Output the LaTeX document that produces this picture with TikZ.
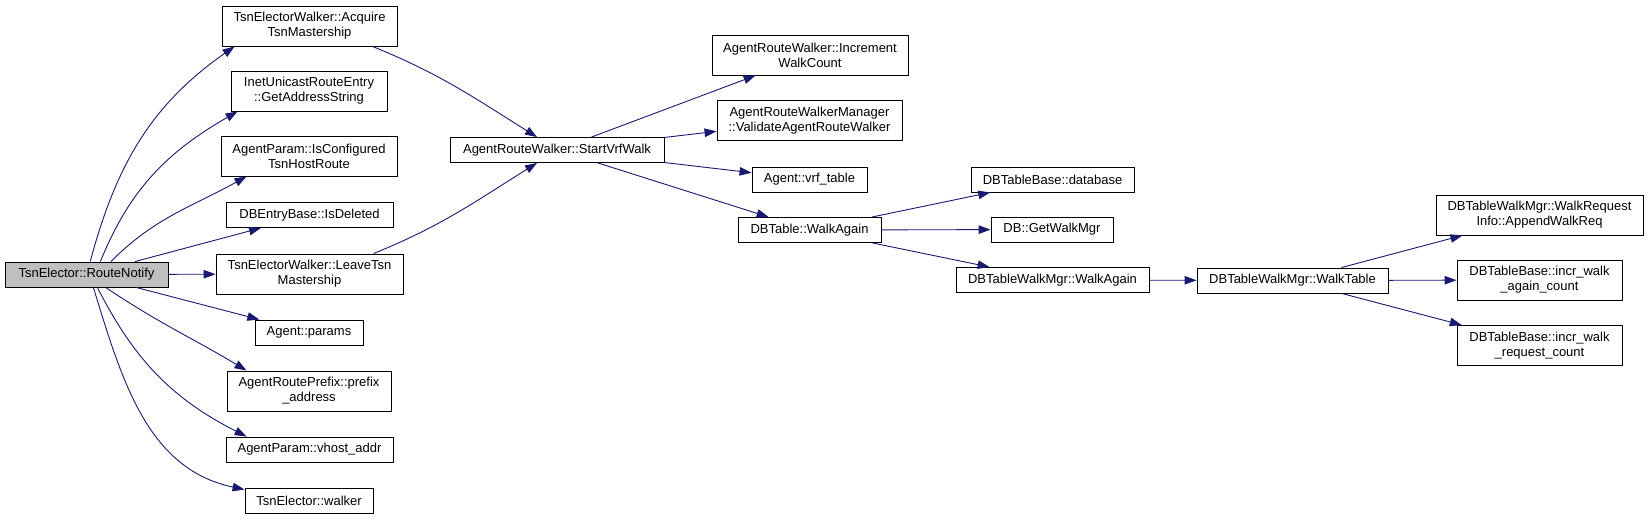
\documentclass[tikz,border=0pt]{standalone}
\usepackage{fontspec}
\setmainfont{Liberation Sans}
\usetikzlibrary{arrows.meta}
\definecolor{edgeblue}{HTML}{191970}
\definecolor{rootgray}{HTML}{BFBFBF}

\begin{document}
\begin{tikzpicture}[x=1pt, y=1pt,
    every node/.style={draw, line width=0.9pt, font=\fontsize{13}{15}\selectfont, align=center, inner sep=1pt, minimum height=25pt},
    root/.style={fill=rootgray},
    two/.style={minimum height=40pt},
    arr/.style={-{Triangle[length=12pt, width=8.5pt]}, color=edgeblue, line width=0.9pt}
]
\useasboundingbox (0,0) rectangle (1649,-519);

% Column 0 — the function itself
\node[root, minimum width=163pt] (rn) at (86.5,-274.5) {TsnElector::RouteNotify};

% Column 1 — direct callees
\node[two, minimum width=175pt] (acq)    at (309.5,-26)    {TsnElectorWalker::Acquire\\TsnMastership};
\node[two, minimum width=156pt] (inet)   at (309,-91)      {InetUnicastRouteEntry\\::GetAddressString};
\node[two, minimum width=176pt] (iscfg)  at (309,-156)     {AgentParam::IsConfigured\\TsnHostRoute};
\node[minimum width=167pt]      (isdel)  at (309.5,-215)   {DBEntryBase::IsDeleted};
\node[two, minimum width=187pt] (leave)  at (309.5,-274)   {TsnElectorWalker::LeaveTsn\\Mastership};
\node[minimum width=108pt]      (params) at (309,-332.5)   {Agent::params};
\node[two, minimum width=164pt] (prefix) at (309,-391)     {AgentRoutePrefix::prefix\\\_address};
\node[minimum width=167pt]      (vhost)  at (309.5,-449.5) {AgentParam::vhost\_addr};
\node[minimum width=128pt]      (walker) at (309,-500.5)   {TsnElector::walker};

% Column 2 — walker start
\node[minimum width=214pt] (svw) at (557,-150) {AgentRouteWalker::StartVrfWalk};

% Column 3
\node[two, minimum width=196pt] (incr)  at (810,-55)     {AgentRouteWalker::Increment\\WalkCount};
\node[two, minimum width=185pt] (valid) at (809.5,-120.5) {AgentRouteWalkerManager\\::ValidateAgentRouteWalker};
\node[minimum width=115pt]      (vrf)   at (809.5,-179.5) {Agent::vrf\_table};
\node[minimum width=143pt]      (dbwa)  at (809.5,-230)   {DBTable::WalkAgain};

% Column 4
\node[minimum width=163pt] (dbase) at (1052.5,-179.5) {DBTableBase::database};
\node[minimum width=122pt] (getwm) at (1052,-229.5)   {DB::GetWalkMgr};
\node[minimum width=193pt] (mgrwa) at (1052.5,-280)   {DBTableWalkMgr::WalkAgain};

% Column 5
\node[minimum width=191pt] (wtab) at (1292.5,-280.5) {DBTableWalkMgr::WalkTable};

% Column 6 — leaves
\node[two, minimum width=207pt] (append) at (1539.5,-215)   {DBTableWalkMgr::WalkRequest\\Info::AppendWalkReq};
\node[two, minimum width=165pt] (again)  at (1539.5,-280)   {DBTableBase::incr\_walk\\\_again\_count};
\node[two, minimum width=165pt] (reqcnt) at (1539.5,-345.5) {DBTableBase::incr\_walk\\\_request\_count};

% Calls from the root
\draw[arr] (rn.74)  to[out=75, in=215]  ([xshift=13pt]acq.south west);
\draw[arr] (rn.43)  to[out=68, in=210]  ([xshift=7pt]inet.south west);
\draw[arr] (rn.28)  to[out=45, in=209]  ([xshift=26pt]iscfg.south west);
\draw[arr] (rn) -- (isdel);
\draw[arr] (rn) -- (leave);
\draw[arr] (rn) -- (params);
\draw[arr] (rn.-34) to[out=-34, in=149] ([xshift=20pt]prefix.north west);
\draw[arr] (rn.-50) to[out=-63, in=153] ([xshift=21pt]vhost.north west);
\draw[arr] (rn.-62) to[out=-73, in=168] ([yshift=-2pt]walker.north west);

% Walker calls
\draw[arr] ([xshift=-25pt]acq.south east)   to[out=-22, in=148] ([xshift=-20pt]svw.north);
\draw[arr] ([xshift=-30pt]leave.north east) to[out=22, in=212]  ([xshift=-20pt]svw.south);
\draw[arr] (svw) -- (incr);
\draw[arr] (svw) -- (valid);
\draw[arr] (svw) -- (vrf);
\draw[arr] (svw) -- (dbwa);
\draw[arr] (dbwa) -- (dbase);
\draw[arr] (dbwa) -- (getwm);
\draw[arr] (dbwa) -- (mgrwa);
\draw[arr] (mgrwa) -- (wtab);
\draw[arr] (wtab) -- (append);
\draw[arr] (wtab) -- (again);
\draw[arr] (wtab) -- (reqcnt);
\end{tikzpicture}
\end{document}
